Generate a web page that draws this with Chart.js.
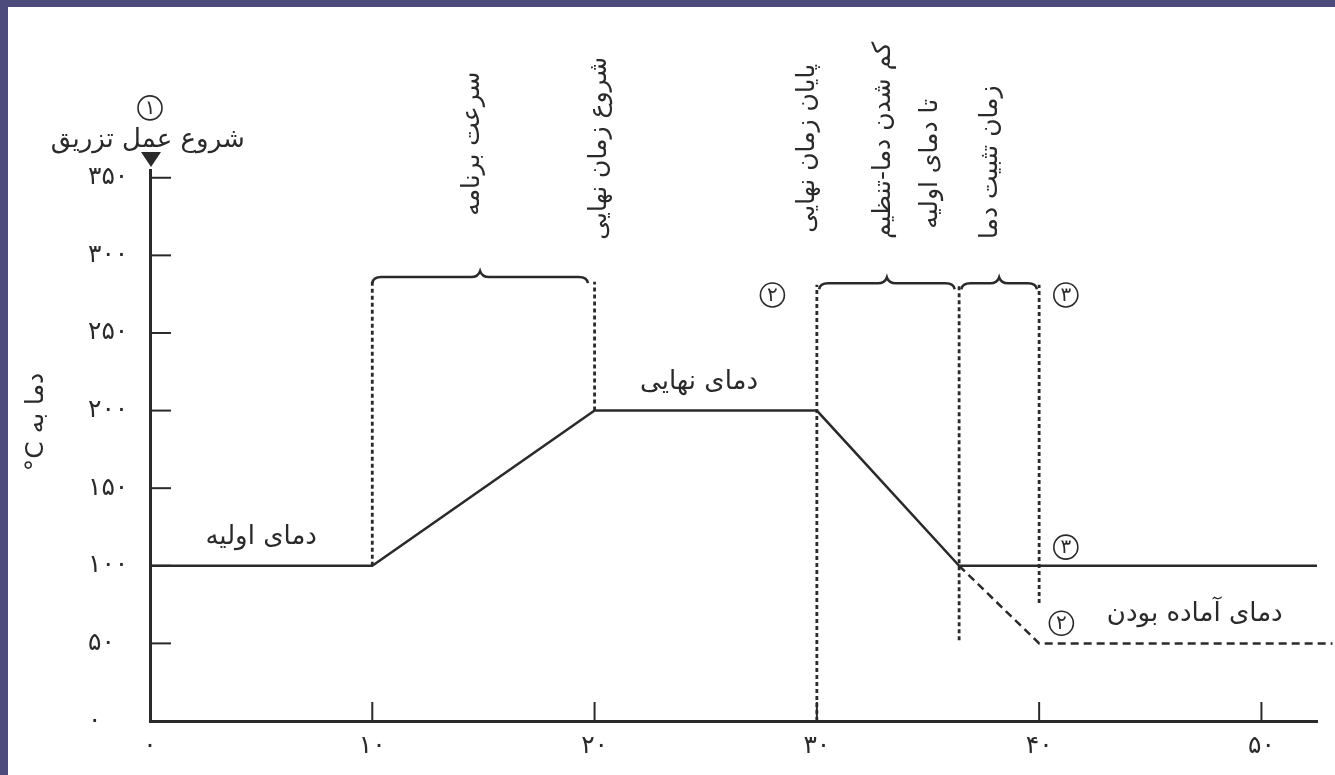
<!DOCTYPE html>
<html>
<head>
<meta charset="utf-8">
<title>برنامه دمایی</title>
<script src="https://cdn.jsdelivr.net/npm/chart.js@4"></script>
<style>
    html, body { margin: 0; padding: 0; background: #fff; overflow: hidden; }
    #wrap { position: relative; width: 1335px; height: 775px; }
    #chart { position: absolute; left: 0; top: 0; }
    .band { position: absolute; background: #4d4b7b; }
    .band.top { left: 0; top: 0; width: 1335px; height: 7px; }
    .band.left { left: 0; top: 0; width: 8px; height: 775px; }
</style>
</head>
<body>
<div id="wrap">
    <canvas id="chart" width="1335" height="775"></canvas>
    <div class="band top"></div>
    <div class="band left"></div>
</div>
<script>
// Oven temperature program (time in minutes, temperature in °C)
const xTicks = [0, 10, 20, 30, 40, 50];
const yTicks = [0, 50, 100, 150, 200, 250, 300, 350];

const programTime = [0, 10, 20, 30, 36.4, 52.5];
const programTemp = [100, 100, 200, 200, 100, 100];

// cooling down to the ready temperature
const readyTime = [36.4, 40, 53.2];
const readyTemp = [100, 50, 50];

// dotted guide lines: time, lower and upper temperature
const guideTime = [10, 20, 30, 36.4, 40];
const guideLow = [100, 200, 0, 52, 76];
const guideHigh = [283, 283, 281, 281, 281];

// braces over the program phases
const braceFrom = [10, 30.1, 36.5];
const braceTo = [19.7, 36.2, 39.9];
const braceLevel = [286, 282, 282];

// vertical phase captions
const phaseLabels = ['سرعت برنامه', 'شروع زمان نهایی', 'پایان زمان نهایی', 'کم شدن دما-تنظیم', 'تا دمای اولیه', 'زمان تثبیت دما'];
const phaseTime = [14.5, 20.2, 29.6, 33.0, 35.1, 37.8];
const phaseTemp = [372, 369, 369, 374, 359, 360];

// horizontal captions
const noteLabels = ['شروع عمل تزریق', 'دمای اولیه', 'دمای نهایی', 'دمای آماده بودن'];
const noteTime = [-0.1, 5.0, 24.7, 47.0];
const noteTemp = [374, 118.6, 218, 69];

// circled step numbers
const stepLabels = ['۱', '۲', '۳', '۳', '۲'];
const stepTime = [0, 28.0, 41.2, 41.2, 41.0];
const stepTemp = [395, 274.5, 274.5, 112, 63];

const yTitle = 'دما به C°';

const INK = '#2a2a2a';
const FONT = '"DejaVu Sans", sans-serif';

function toPersian(n) {
    return String(n).replace(/\d/g, d => '۰۱۲۳۴۵۶۷۸۹'[d]);
}

function pairs(xs, ys) {
    return xs.map((x, i) => ({ x: x, y: ys[i] }));
}

const guideSets = guideTime.map((t, i) => ({
    data: [{ x: t, y: guideLow[i] }, { x: t, y: guideHigh[i] }],
    borderColor: INK,
    borderWidth: 2.8,
    borderDash: [4, 3],
    showLine: true,
    pointRadius: 0
}));

function drawBrace(ctx, x1, x2, y) {
    const mid = (x1 + x2) / 2;
    ctx.beginPath();
    ctx.moveTo(x1, y + 6);
    ctx.quadraticCurveTo(x1 + 1, y, x1 + 9, y);
    ctx.lineTo(mid - 9, y);
    ctx.quadraticCurveTo(mid - 2, y, mid, y - 6);
    ctx.quadraticCurveTo(mid + 2, y, mid + 9, y);
    ctx.lineTo(x2 - 9, y);
    ctx.quadraticCurveTo(x2 - 1, y, x2, y + 6);
    ctx.stroke();
}

const diagram = {
    id: 'diagram',
    afterDatasetsDraw(chart) {
        const ctx = chart.ctx;
        const xs = chart.scales.x;
        const ys = chart.scales.y;
        ctx.save();
        ctx.strokeStyle = INK;
        ctx.fillStyle = INK;
        ctx.lineWidth = 2;

        // inward tick marks
        yTicks.forEach(v => {
            if (v === 0) return;
            const py = ys.getPixelForValue(v);
            ctx.beginPath();
            ctx.moveTo(xs.left, py);
            ctx.lineTo(xs.left + 21, py);
            ctx.stroke();
        });
        xTicks.forEach(v => {
            if (v === 0) return;
            const px = xs.getPixelForValue(v);
            ctx.beginPath();
            ctx.moveTo(px, ys.bottom);
            ctx.lineTo(px, ys.bottom - 19);
            ctx.stroke();
        });

        // arrow marking the injection at the top of the temperature axis
        const ax = xs.getPixelForValue(0) + 1;
        ctx.beginPath();
        ctx.moveTo(ax - 10, ys.top - 18);
        ctx.lineTo(ax + 10, ys.top - 18);
        ctx.lineTo(ax, ys.top - 3);
        ctx.closePath();
        ctx.fill();

        // braces
        ctx.lineWidth = 2.5;
        braceFrom.forEach((f, i) => {
            drawBrace(ctx, xs.getPixelForValue(f), xs.getPixelForValue(braceTo[i]), ys.getPixelForValue(braceLevel[i]));
        });

        // circled step numbers
        ctx.lineWidth = 1.6;
        ctx.textAlign = 'center';
        ctx.textBaseline = 'middle';
        ctx.font = '20px ' + FONT;
        stepLabels.forEach((s, i) => {
            const px = xs.getPixelForValue(stepTime[i]);
            const py = ys.getPixelForValue(stepTemp[i]);
            ctx.beginPath();
            ctx.arc(px, py, 12, 0, Math.PI * 2);
            ctx.stroke();
            ctx.fillText(s, px, py + 1);
        });

        ctx.direction = 'rtl';

        // horizontal captions
        ctx.font = '26px ' + FONT;
        noteLabels.forEach((s, i) => {
            ctx.fillText(s, xs.getPixelForValue(noteTime[i]), ys.getPixelForValue(noteTemp[i]));
        });

        // vertical captions
        ctx.font = '25px ' + FONT;
        phaseLabels.forEach((s, i) => {
            ctx.save();
            ctx.translate(xs.getPixelForValue(phaseTime[i]), ys.getPixelForValue(phaseTemp[i]));
            ctx.rotate(-Math.PI / 2);
            ctx.fillText(s, 0, 0);
            ctx.restore();
        });

        // axis title
        ctx.font = '25px ' + FONT;
        ctx.save();
        ctx.translate(36, 422);
        ctx.rotate(-Math.PI / 2);
        ctx.fillText(yTitle, 0, 0);
        ctx.restore();

        ctx.restore();
    }
};

new Chart(document.getElementById('chart'), {
    type: 'scatter',
    data: {
        datasets: [{
            data: pairs(programTime, programTemp),
            borderColor: INK,
            borderWidth: 2.5,
            showLine: true,
            pointRadius: 0,
            clip: false
        }, {
            data: pairs(readyTime, readyTemp),
            borderColor: INK,
            borderWidth: 2.5,
            borderDash: [8, 5],
            showLine: true,
            pointRadius: 0,
            clip: false
        }].concat(guideSets)
    },
    options: {
        responsive: false,
        animation: false,
        layout: { padding: { left: 88, top: 170, right: 18, bottom: 0 } },
        plugins: {
            legend: { display: false },
            tooltip: { enabled: false }
        },
        scales: {
            x: {
                type: 'linear',
                min: 0,
                max: 52.5,
                afterFit: s => { s.height = 54; },
                afterBuildTicks: s => { s.ticks = xTicks.map(v => ({ value: v })); },
                grid: { display: false, drawTicks: false },
                border: { display: true, color: INK, width: 3 },
                ticks: {
                    padding: 10,
                    color: INK,
                    font: { family: FONT, size: 25 },
                    callback: v => toPersian(v)
                }
            },
            y: {
                min: 0,
                max: 355,
                afterFit: s => { s.width = 62; },
                afterBuildTicks: s => { s.ticks = yTicks.map(v => ({ value: v })); },
                grid: { display: false, drawTicks: false },
                border: { display: true, color: INK, width: 3 },
                ticks: {
                    crossAlign: 'far',
                    color: INK,
                    font: { family: FONT, size: 25 },
                    callback: v => toPersian(v)
                }
            }
        }
    },
    plugins: [diagram]
});
</script>
</body>
</html>
